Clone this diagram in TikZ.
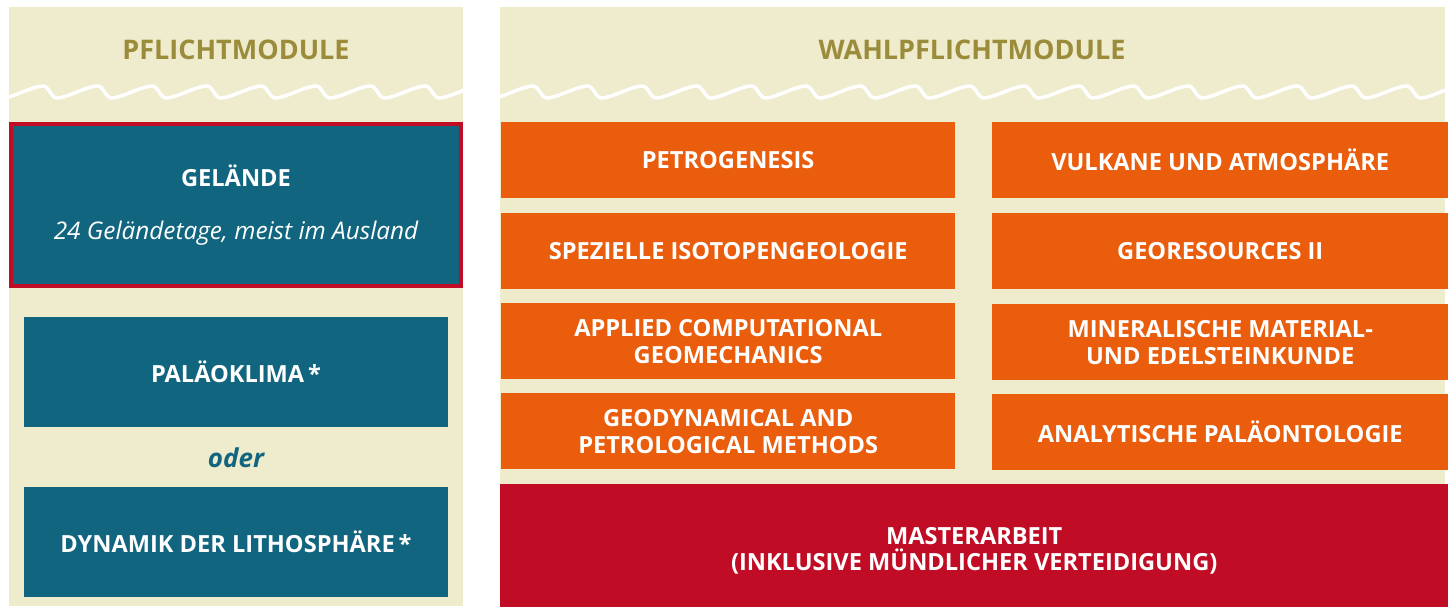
\documentclass[tikz,border=0pt]{standalone}
\usepackage{fontspec}
\setmainfont{Open Sans}
\definecolor{beige}{HTML}{EFEBCD}
\definecolor{teal}{HTML}{11657E}
\definecolor{orng}{HTML}{E95D0C}
\definecolor{mred}{HTML}{C00D25}
\definecolor{olive}{HTML}{9B8C3B}
\tikzset{
  panel/.style={fill=beige, inner sep=0pt, anchor=north west},
  hdr/.style={text=olive, font=\fontsize{27}{31}\selectfont\bfseries},
  tealbox/.style={fill=teal, text=white, inner sep=0pt, align=center, font=\fontsize{23.6}{27}\selectfont\bfseries},
  orbox/.style={fill=orng, text=white, inner sep=0pt, align=center, anchor=north west, font=\fontsize{23.6}{27}\selectfont\bfseries},
  redbox/.style={fill=mred, text=white, inner sep=0pt, align=center, anchor=north west, font=\fontsize{23.6}{26}\selectfont\bfseries},
  wavy/.style={draw=white, line width=3.5pt, line cap=round}
}
\begin{document}
\begin{tikzpicture}[x=1pt,y=-1pt]
\useasboundingbox (0,0) rectangle (1448,606);
% panels
\node[panel, minimum width=454, minimum height=599] (lp) at (9,7) {};
\node[panel, minimum width=945, minimum height=599] (rp) at (500,7) {};
% headers
\node[hdr] (h1) at (236,50) {PFLICHTMODULE};
\node[hdr] (h2) at (972,50) {WAHLPFLICHTMODULE};
% waves
\begin{scope}
\clip (9,7) rectangle (463,120);
\draw[wavy] ({43-54.6},86) \foreach \k in {-1,...,8} {
  .. controls ({43+\k*54.6+6},86) and ({43+\k*54.6+8},98) .. ({43+\k*54.6+14},98)
  .. controls ({43+\k*54.6+24},98) and ({43+\k*54.6+44},86) .. ({43+(\k+1)*54.6},86) };
\end{scope}
\begin{scope}
\clip (500,7) rectangle (1448,120);
\draw[wavy] ({533-54.6},86) \foreach \k in {-1,...,17} {
  .. controls ({533+\k*54.6+6},86) and ({533+\k*54.6+8},98) .. ({533+\k*54.6+14},98)
  .. controls ({533+\k*54.6+24},98) and ({533+\k*54.6+44},86) .. ({533+(\k+1)*54.6},86) };
\end{scope}
% left column
\node[tealbox, draw=mred, line width=4pt, minimum width=450, minimum height=162] (gel) at (236,205)
  {GELÄNDE\\[26pt]{\mdseries\itshape\fontsize{24.3}{27}\selectfont 24 Geländetage, meist im Ausland}};
\node[tealbox, minimum width=424, minimum height=110] (palk) at (236,372) {PALÄOKLIMA\,*};
\node[text=teal, font=\fontsize{26}{30}\selectfont\itshape\bfseries] (oder) at (236,458) {oder};
\node[tealbox, minimum width=424, minimum height=110] (dyn) at (236,541.5) {DYNAMIK DER LITHOSPHÄRE\,*};
% right column
\node[orbox, minimum width=454, minimum height=76] (petro) at (501,122) {PETROGENESIS};
\node[orbox, minimum width=456, minimum height=76] (vulk) at (992,122) {VULKANE UND ATMOSPHÄRE};
\node[orbox, minimum width=454, minimum height=76] (iso) at (501,213) {SPEZIELLE ISOTOPENGEOLOGIE};
\node[orbox, minimum width=456, minimum height=76] (geores) at (992,213) {GEORESOURCES II};
\node[orbox, minimum width=454, minimum height=76] (appl) at (501,303) {APPLIED COMPUTATIONAL\\GEOMECHANICS};
\node[orbox, minimum width=456, minimum height=76] (miner) at (992,304) {MINERALISCHE MATERIAL-\\UND EDELSTEINKUNDE};
\node[orbox, minimum width=454, minimum height=76] (geody) at (501,393) {GEODYNAMICAL AND\\PETROLOGICAL METHODS};
\node[orbox, minimum width=456, minimum height=76] (analyt) at (992,394) {ANALYTISCHE PALÄONTOLOGIE};
\node[redbox, minimum width=948, minimum height=134] (master) at (500,484) {MASTERARBEIT\\(INKLUSIVE MÜNDLICHER VERTEIDIGUNG)};
\end{tikzpicture}
\end{document}
